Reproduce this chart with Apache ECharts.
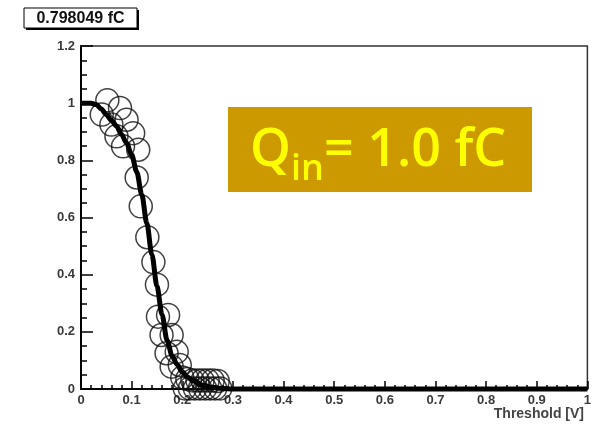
<!DOCTYPE html>
<html>
<head>
<meta charset="utf-8">
<script src="https://cdn.jsdelivr.net/npm/echarts@6/dist/echarts.min.js"></script>
<style>
html,body{margin:0;padding:0;background:#fff;}
#c{width:594px;height:426px;}
</style>
</head>
<body>
<div id="c"></div>
<script>
// Fit curve
const fitX = [0, 0.02, 0.03, 0.04, 0.05, 0.06, 0.07, 0.08, 0.09, 0.10, 0.11, 0.12, 0.13, 0.14, 0.15, 0.16, 0.17, 0.18, 0.19, 0.20, 0.21, 0.22, 0.24, 0.26, 0.28, 0.30, 1.0];
const fitY = [1.0, 1.0, 0.995, 0.98, 0.96, 0.94, 0.92, 0.89, 0.86, 0.82, 0.76, 0.68, 0.58, 0.47, 0.36, 0.26, 0.17, 0.115, 0.085, 0.06, 0.042, 0.03, 0.013, 0.006, 0.002, 0.0, 0.0];

// Measured points (open circles)
const ptX = [0.041, 0.052, 0.060, 0.070, 0.077, 0.083, 0.090, 0.103, 0.110, 0.113, 0.118, 0.131, 0.143, 0.150,
             0.152, 0.172, 0.159, 0.179, 0.169, 0.189, 0.179, 0.195,
             0.20, 0.21, 0.22, 0.23, 0.24, 0.25, 0.26, 0.27,
             0.205, 0.215, 0.225, 0.235, 0.245, 0.255, 0.265, 0.275];
const ptY = [0.960, 1.010, 0.925, 0.884, 0.983, 0.849, 0.942, 0.895, 0.740, 0.837, 0.639, 0.531, 0.444, 0.365,
             0.253, 0.259, 0.189, 0.189, 0.125, 0.130, 0.078, 0.084,
             0.04, 0.035, 0.03, 0.03, 0.03, 0.03, 0.03, 0.028,
             0.002, 0.002, 0.002, 0.002, 0.002, 0.002, 0.002, 0.002];

const statText = '0.798049 fC';
const xTitle = 'Threshold [V]';
const boxMain = 'Q';
const boxSub = 'in';
const boxRest = '= 1.0 fC';

const chart = echarts.init(document.getElementById('c'), null, {renderer: 'canvas'});
const lblFont = {fontFamily: 'Liberation Sans', fontWeight: 'bold', fontSize: 13, color: '#3a3a3a'};

chart.setOption({
  animation: false,
  backgroundColor: '#fff',
  grid: {left: 81, right: 6, top: 46, bottom: 37, show: true, borderColor: '#333', borderWidth: 1.5, backgroundColor: 'transparent'},
  xAxis: {
    type: 'value', min: 0, max: 1, interval: 0.1,
    axisLine: {show: true, onZero: false, lineStyle: {color: '#000', width: 2}},
    axisTick: {show: true, inside: true, length: 8, lineStyle: {color: '#000', width: 1.5}},
    minorTick: {show: true, splitNumber: 5, length: 4, lineStyle: {color: '#000', width: 1.5}},
    axisLabel: Object.assign({margin: 5}, lblFont),
    splitLine: {show: false}
  },
  yAxis: {
    type: 'value', min: 0, max: 1.2, interval: 0.2,
    axisLine: {show: true, onZero: false, lineStyle: {color: '#000', width: 2}},
    axisTick: {show: true, inside: true, length: 12, lineStyle: {color: '#000', width: 1.5}},
    minorTick: {show: true, splitNumber: 4, length: 6, lineStyle: {color: '#000', width: 1.5}},
    axisLabel: Object.assign({margin: 6}, lblFont),
    splitLine: {show: false}
  },
  series: [
    {
      type: 'scatter',
      data: ptX.map((x, i) => [x, ptY[i]]),
      symbol: 'circle',
      symbolSize: 23,
      clip: false,
      itemStyle: {color: 'rgba(0,0,0,0)', borderColor: '#111', borderWidth: 1.5},
      z: 2
    },
    {
      type: 'line',
      data: fitX.map((x, i) => [x, fitY[i]]),
      showSymbol: false,
      smooth: 0.3,
      smoothMonotone: 'x',
      clip: false,
      lineStyle: {color: '#000', width: 5},
      z: 3
    }
  ],
  graphic: [
    {type: 'rect', shape: {x: 26, y: 10, width: 113, height: 20}, style: {fill: '#000'}, z: 10},
    {type: 'rect', shape: {x: 24, y: 8, width: 113, height: 20}, style: {fill: '#fff', stroke: '#000', lineWidth: 1}, z: 11},
    {type: 'text', x: 80.5, y: 18.5, style: {text: statText, fontFamily: 'Liberation Sans', fontWeight: 'bold', fontSize: 16, fill: '#111', align: 'center', verticalAlign: 'middle'}, z: 12},
    {type: 'text', x: 584, y: 414, style: {text: xTitle, fontFamily: 'Liberation Sans', fontWeight: 'bold', fontSize: 14, fill: '#444', align: 'right', verticalAlign: 'middle'}, z: 12},
    {type: 'rect', shape: {x: 228, y: 107, width: 304, height: 85}, style: {fill: '#CC9900'}, z: 10},
    {type: 'text', x: 250, y: 151, style: {text: boxMain, fontFamily: 'Open Sans', fontWeight: 600, fontSize: 52, fill: '#FFFF00', align: 'left', verticalAlign: 'middle'}, z: 12},
    {type: 'text', x: 291, y: 170, style: {text: boxSub, fontFamily: 'Open Sans', fontWeight: 600, fontSize: 36, fill: '#FFFF00', align: 'left', verticalAlign: 'middle'}, z: 12},
    {type: 'text', x: 324, y: 151, style: {text: boxRest, fontFamily: 'Open Sans', fontWeight: 600, fontSize: 52, fill: '#FFFF00', align: 'left', verticalAlign: 'middle'}, z: 12}
  ]
});
</script>
</body>
</html>
